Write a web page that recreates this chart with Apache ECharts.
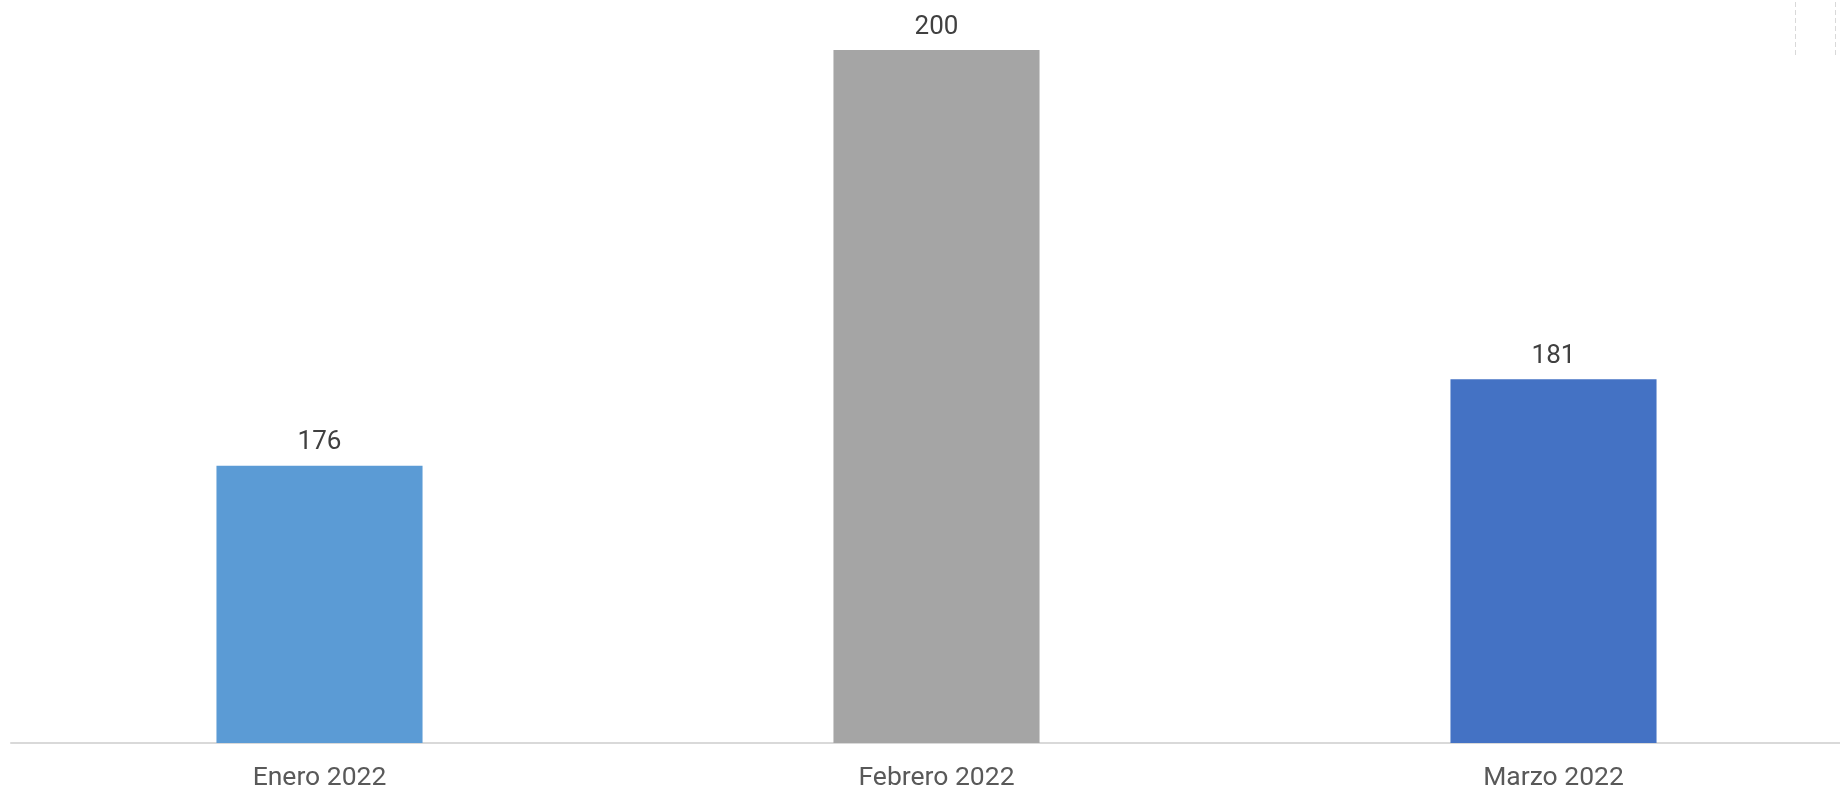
<!DOCTYPE html>
<html>
<head>
<meta charset="utf-8">
<script src="https://cdn.jsdelivr.net/npm/echarts@6/dist/echarts.min.js"></script>
<style>
html,body{margin:0;padding:0;background:#fff;overflow:hidden;width:1840px;height:792px;}
#chart{width:1862px;height:792px;}
</style>
</head>
<body>
<div id="chart"></div>
<script>
const categories = ['Enero 2022', 'Febrero 2022', 'Marzo 2022'];
const values = [176, 200, 181];
const barColors = ['#5B9BD5', '#A5A5A5', '#4472C4'];

const chart = echarts.init(document.getElementById('chart'));
chart.setOption({
  backgroundColor: '#ffffff',
  animation: false,
  grid: { left: 11, top: 50, right: 0, bottom: 49, containLabel: false },
  xAxis: {
    type: 'category',
    data: categories,
    axisLine: { show: true, lineStyle: { color: '#d9d9d9', width: 2 } },
    axisTick: { show: false },
    axisLabel: { color: '#595959', fontSize: 26.5, fontFamily: 'Roboto', margin: 22 }
  },
  yAxis: {
    type: 'value',
    min: 160,
    max: 200,
    show: false,
    splitLine: { show: false }
  },
  series: [{
    type: 'bar',
    barWidth: '33.4%',
    data: values.map((v, i) => ({ value: v, itemStyle: { color: barColors[i] } })),
    label: {
      show: true,
      position: 'top',
      distance: 10,
      color: '#404040',
      fontSize: 26,
      fontFamily: 'Roboto'
    }
  }],
  graphic: [
    { type: 'line', shape: { x1: 1795.5, y1: 2, x2: 1795.5, y2: 58 }, style: { stroke: '#d9d9d9', lineWidth: 1, lineDash: [5, 3] } },
    { type: 'line', shape: { x1: 1835.5, y1: 2, x2: 1835.5, y2: 58 }, style: { stroke: '#d9d9d9', lineWidth: 1, lineDash: [5, 3] } }
  ]
});
</script>
</body>
</html>
